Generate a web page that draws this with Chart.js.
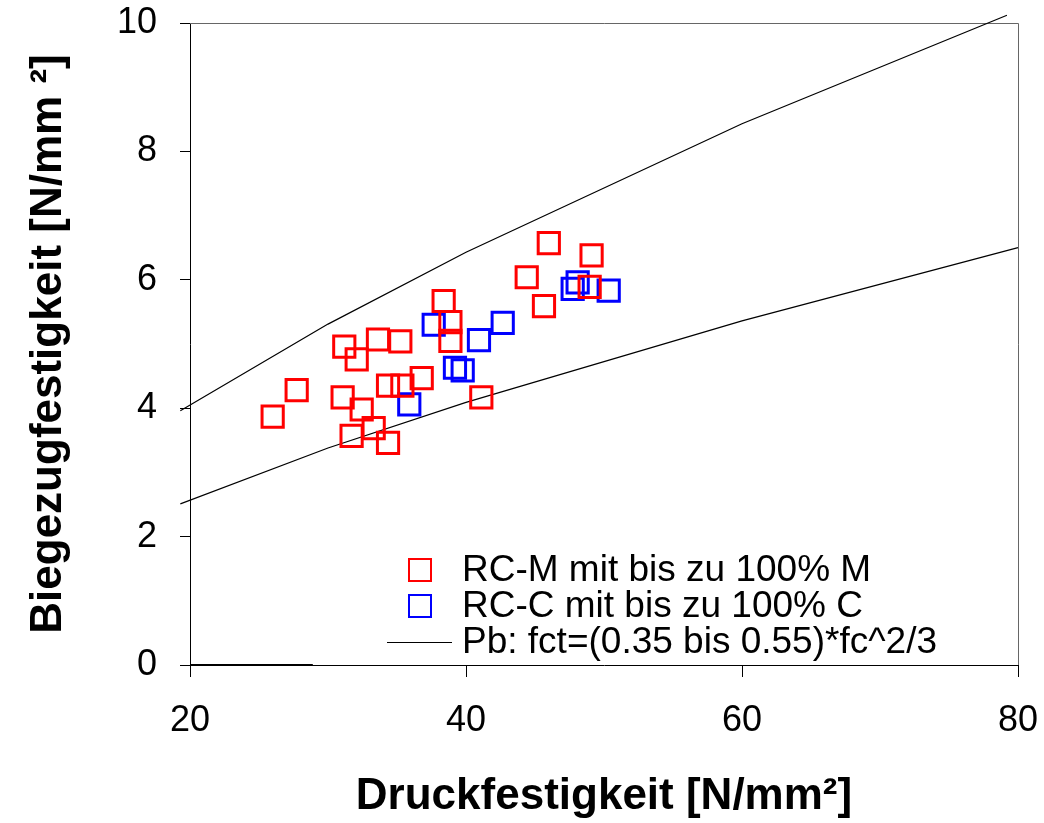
<!DOCTYPE html>
<html>
<head>
<meta charset="utf-8">
<script src="https://cdn.jsdelivr.net/npm/chart.js@4/dist/chart.umd.min.js"></script>
<style>
  html, body { margin: 0; padding: 0; background: #fff; }
  #chart { display: block; }
</style>
</head>
<body>
<canvas id="chart" width="1044" height="823"></canvas>
<script>
// RC-M mit bis zu 100% M
var rcmX = [46.0, 49.1, 44.4, 48.96, 45.65, 38.38, 38.87, 38.87, 31.18, 33.62, 35.24, 32.08, 27.73, 25.99, 31.06, 32.44, 34.35, 35.39, 36.79, 31.71, 33.31, 34.35, 41.11];
var rcmY = [6.57, 6.38, 6.04, 5.89, 5.59, 5.67, 5.34, 5.05, 4.96, 5.07, 5.04, 4.76, 4.28, 3.87, 4.17, 3.98, 4.35, 4.35, 4.47, 3.57, 3.69, 3.46, 4.17];
// RC-C mit bis zu 100% C
var rccX = [48.09, 47.73, 50.34, 37.66, 42.66, 40.94, 39.20, 39.76, 35.89];
var rccY = [5.96, 5.86, 5.83, 5.30, 5.33, 5.06, 4.63, 4.59, 4.06];
// Pb curves (upper 0.55, lower 0.35)
var pbUpperX = [19.3, 30, 40, 60, 79.2];
var pbUpperY = [3.96, 5.31, 6.43, 8.43, 10.12];
var pbLowerX = [19.3, 30, 40, 60, 80];
var pbLowerY = [2.51, 3.38, 4.09, 5.36, 6.50];
// short segment on the x axis
var baseX = [20, 28.9];
var baseY = [0, 0];

var xTicks = [20, 40, 60, 80];
var yTicks = [0, 2, 4, 6, 8, 10];

var legendLabels = ['RC-M mit bis zu 100% M', 'RC-C mit bis zu 100% C', 'Pb: fct=(0.35 bis 0.55)*fc^2/3'];

function pts(xs, ys) {
  return xs.map(function(x, i) { return { x: x, y: ys[i] }; });
}

Chart.defaults.font.family = '"Liberation Sans", Arial, sans-serif';
Chart.defaults.color = '#000';

var framePlugin = {
  id: 'frame',
  beforeDatasetsDraw: function(chart) {
    var a = chart.chartArea, ctx = chart.ctx;
    ctx.save();
    ctx.strokeStyle = '#666';
    ctx.lineWidth = 1;
    ctx.beginPath();
    ctx.moveTo(a.left, a.top + 0.5);
    ctx.lineTo(a.right + 0.5, a.top + 0.5);
    ctx.lineTo(a.right + 0.5, a.bottom);
    ctx.stroke();
    ctx.restore();
  }
};

var innerLegend = {
  id: 'innerLegend',
  afterDraw: function(chart) {
    var a = chart.chartArea, ctx = chart.ctx;
    var mx = a.left + 230, tx = a.left + 272;
    var y0 = a.bottom - 95, gap = 36;
    ctx.save();
    ctx.font = '37px "Liberation Sans", Arial, sans-serif';
    ctx.textBaseline = 'middle';
    ctx.fillStyle = '#000';
    ctx.lineWidth = 2;
    ctx.strokeStyle = '#ff0000';
    ctx.strokeRect(mx - 11, y0 - 11, 22, 22);
    ctx.strokeStyle = '#0000ff';
    ctx.strokeRect(mx - 11, y0 + gap - 11, 22, 22);
    ctx.strokeStyle = '#000';
    ctx.lineWidth = 1;
    ctx.beginPath();
    ctx.moveTo(a.left + 197, y0 + 2 * gap + 0.5);
    ctx.lineTo(a.left + 262, y0 + 2 * gap + 0.5);
    ctx.stroke();
    for (var i = 0; i < legendLabels.length; i++) {
      ctx.fillText(legendLabels[i], tx, y0 + i * gap + 1);
    }
    ctx.restore();
  }
};

new Chart(document.getElementById('chart'), {
  type: 'scatter',
  data: {
    datasets: [{
      label: legendLabels[0],
      data: pts(rcmX, rcmY),
      pointStyle: 'rect',
      pointRadius: 15,
      pointBorderWidth: 3,
      borderColor: '#ff0000',
      backgroundColor: 'rgba(0,0,0,0)'
    }, {
      label: legendLabels[1],
      data: pts(rccX, rccY),
      pointStyle: 'rect',
      pointRadius: 15,
      pointBorderWidth: 3,
      borderColor: '#0000ff',
      backgroundColor: 'rgba(0,0,0,0)'
    }, {
      label: legendLabels[2],
      data: pts(pbUpperX, pbUpperY),
      showLine: true,
      pointRadius: 0,
      borderColor: '#000',
      borderWidth: 1.2,
      clip: false
    }, {
      label: 'lower',
      data: pts(pbLowerX, pbLowerY),
      showLine: true,
      pointRadius: 0,
      borderColor: '#000',
      borderWidth: 1.2,
      clip: false
    }, {
      label: 'base',
      data: pts(baseX, baseY),
      showLine: true,
      pointRadius: 0,
      borderColor: '#000',
      borderWidth: 2,
      clip: false
    }]
  },
  options: {
    responsive: false,
    animation: false,
    devicePixelRatio: 1,
    layout: { autoPadding: false, padding: { top: 23, right: 26, left: 0, bottom: 0 } },
    plugins: {
      legend: { display: false },
      tooltip: { enabled: false }
    },
    scales: {
      x: {
        type: 'linear',
        min: 20,
        max: 80,
        afterFit: function(s) { s.height = 158; s.paddingLeft = 0; s.paddingRight = 0; },
        afterBuildTicks: function(s) { s.ticks = xTicks.map(function(v) { return { value: v }; }); },
        ticks: { font: { size: 36 }, color: '#000', padding: 22 },
        grid: { drawOnChartArea: false, tickLength: 12, color: '#000' },
        border: { color: '#000', width: 1 },
        title: {
          display: true,
          text: 'Druckfestigkeit [N/mm²]',
          font: { size: 44, weight: 'bold' },
          color: '#000',
          padding: { top: 0, bottom: 0 }
        }
      },
      y: {
        min: 0,
        max: 10,
        afterFit: function(s) { s.width = 190; s.paddingTop = 0; s.paddingBottom = 0; },
        afterBuildTicks: function(s) { s.ticks = yTicks.map(function(v) { return { value: v }; }); },
        ticks: { font: { size: 36 }, color: '#000', padding: 23 },
        grid: { drawOnChartArea: false, tickLength: 10, color: '#000' },
        border: { color: '#000', width: 1 },
        title: {
          display: true,
          text: 'Biegezugfestigkeit [N/mm ²]',
          font: { size: 44, weight: 'bold' },
          color: '#000',
          padding: { top: 22, bottom: 0 }
        }
      }
    }
  },
  plugins: [framePlugin, innerLegend]
});
</script>
</body>
</html>
